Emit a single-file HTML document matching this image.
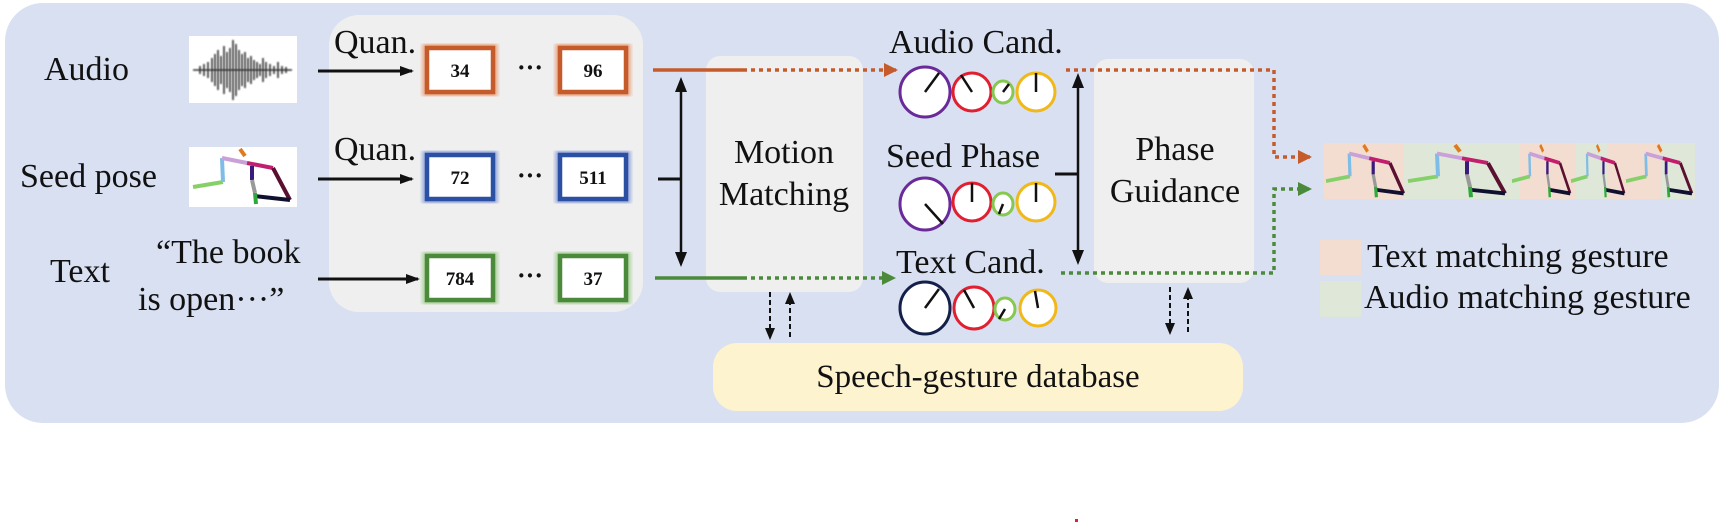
<!DOCTYPE html>
<html><head><meta charset="utf-8"><style>
html,body{margin:0;padding:0;background:#fff;}
svg{display:block;}
text{font-family:"Liberation Serif","Times New Roman",serif;fill:#111;}
</style></head><body>
<svg width="1726" height="525" viewBox="0 0 1726 525" xmlns="http://www.w3.org/2000/svg">
<defs>
<marker id="ao" markerWidth="14" markerHeight="14" refX="12" refY="7" orient="auto" markerUnits="userSpaceOnUse"><path d="M0,0 L14,7 L0,14 z" fill="#c55a2b"/></marker>
<marker id="ag" markerWidth="14" markerHeight="14" refX="12" refY="7" orient="auto" markerUnits="userSpaceOnUse"><path d="M0,0 L14,7 L0,14 z" fill="#4a8a3a"/></marker>
<marker id="abig" markerWidth="14" markerHeight="14" refX="12" refY="7" orient="auto" markerUnits="userSpaceOnUse"><path d="M0,2 L14,7 L0,12 z" fill="#111"/></marker>
<filter id="bl"><feGaussianBlur stdDeviation="2"/></filter>
<filter id="bl1"><feGaussianBlur stdDeviation="0.8"/></filter>
<g id="skel" stroke-width="4" fill="none" stroke-linecap="butt">
  <path d="M193,187 L223,182" stroke="#86d06a"/>
  <path d="M223,182 L222,158" stroke="#7fbde6"/>
  <path d="M222,158 L247,163" stroke="#c9a0d8"/>
  <path d="M247,163 L273,168" stroke="#c21e6e"/>
  <path d="M273,168 L290,200" stroke="#5a1030"/>
  <path d="M290,200 L254,196" stroke="#101030"/>
  <path d="M252,166 L252,180" stroke="#3a1a7a"/>
  <path d="M252,180 L255,193" stroke="#999"/>
  <path d="M255,193 L256,204" stroke="#2eaa3a"/>
  <path d="M240,149 L245,156" stroke="#e07a20"/>
</g>
</defs>

<rect x="5" y="3" width="1714" height="420" rx="38" fill="#d9e0f2"/>
<rect x="329" y="15" width="314" height="297" rx="30" fill="#efefef"/>
<rect x="706" y="56" width="157" height="236" rx="14" fill="#efefef"/>
<rect x="1094" y="59" width="160" height="224" rx="14" fill="#efefef"/>
<rect x="713" y="343" width="530" height="68" rx="24" fill="#fdf3cf"/>

<text x="44" y="80" font-size="34">Audio</text>
<text x="20" y="187" font-size="34">Seed pose</text>
<text x="50" y="282" font-size="34">Text</text>
<text x="156" y="263" font-size="34">“The book</text>
<text x="138" y="310" font-size="34">is open···”</text>

<rect x="189" y="36" width="108" height="67" fill="#fff"/>
<g stroke="#111" stroke-width="1.6" opacity="0.85" filter="url(#bl1)">
<path d="M193,70 H292"/>
<path d="M200,66V74M204,64V76M208,62V78M212,58V82M215,54V86M218,50V90M221,56V84M224,46V94M227,52V88M230,48V92M233,40V100M236,44V96M239,50V90M242,54V86M245,52V88M248,58V82M251,56V84M254,60V80M257,62V78M260,64V76M263,58V82M266,62V78M270,64V76M274,66V74M278,62V78M282,66V74M286,67V73"/>
</g>

<rect x="189" y="147" width="108" height="60" fill="#fff"/>
<use href="#skel"/>

<text x="334" y="53" font-size="34">Quan.</text>
<text x="334" y="160" font-size="34">Quan.</text>
<line x1="318" y1="71" x2="412" y2="71" stroke="#111" stroke-width="3" marker-end="url(#abig)"/>
<line x1="318" y1="179" x2="412" y2="179" stroke="#111" stroke-width="3" marker-end="url(#abig)"/>
<line x1="318" y1="279" x2="418" y2="279" stroke="#111" stroke-width="3" marker-end="url(#abig)"/>

<g fill="#fff" stroke-width="4.5">
<rect x="427" y="48" width="66" height="44" stroke="#e9a27e" stroke-width="9" filter="url(#bl)"/>
<rect x="560" y="48" width="66" height="44" stroke="#e9a27e" stroke-width="9" filter="url(#bl)"/>
<rect x="427" y="48" width="66" height="44" stroke="#c55a2b"/>
<rect x="560" y="48" width="66" height="44" stroke="#c55a2b"/>
<rect x="427" y="155" width="66" height="44" stroke="#8ea2d8" stroke-width="9" filter="url(#bl)"/>
<rect x="560" y="155" width="66" height="44" stroke="#8ea2d8" stroke-width="9" filter="url(#bl)"/>
<rect x="427" y="155" width="66" height="44" stroke="#2b4fa3"/>
<rect x="560" y="155" width="66" height="44" stroke="#2b4fa3"/>
<rect x="427" y="256" width="66" height="44" stroke="#a6cf95" stroke-width="9" filter="url(#bl)"/>
<rect x="560" y="256" width="66" height="44" stroke="#a6cf95" stroke-width="9" filter="url(#bl)"/>
<rect x="427" y="256" width="66" height="44" stroke="#4a8a3a"/>
<rect x="560" y="256" width="66" height="44" stroke="#4a8a3a"/>
</g>
<g font-size="19" font-weight="bold" text-anchor="middle">
<text x="460" y="77">34</text><text x="593" y="77">96</text>
<text x="460" y="184">72</text><text x="593" y="184">511</text>
<text x="460" y="285">784</text><text x="593" y="285">37</text>
</g>
<g font-size="26" font-weight="bold" text-anchor="middle">
<text x="530" y="76">···</text><text x="530" y="184">···</text><text x="530" y="284">···</text>
</g>

<line x1="653" y1="70" x2="743" y2="70" stroke="#c55a2b" stroke-width="3.5"/>
<line x1="743" y1="70" x2="896" y2="70" stroke="#c55a2b" stroke-width="3.5" stroke-dasharray="4,4" marker-end="url(#ao)"/>
<line x1="655" y1="278" x2="743" y2="278" stroke="#4a8a3a" stroke-width="3.5"/>
<line x1="743" y1="278" x2="894" y2="278" stroke="#4a8a3a" stroke-width="3.5" stroke-dasharray="4,4" marker-end="url(#ag)"/>

<line x1="681" y1="90" x2="681" y2="254" stroke="#111" stroke-width="2.5"/>
<path d="M675,92 L681,77 L687,92 z M675,252 L681,267 L687,252 z" fill="#111"/>
<line x1="658" y1="179" x2="681" y2="179" stroke="#111" stroke-width="3"/>

<text x="784" y="163" font-size="34" text-anchor="middle">Motion</text>
<text x="784" y="205" font-size="34" text-anchor="middle">Matching</text>

<g stroke="#111" stroke-width="2" stroke-dasharray="5,3">
<line x1="770" y1="292" x2="770" y2="330"/><line x1="790" y1="300" x2="790" y2="340"/>
<line x1="1170" y1="287" x2="1170" y2="325"/><line x1="1188" y1="295" x2="1188" y2="335"/>
</g>
<path d="M765,328 L770,340 L775,328 z M785,304 L790,292 L795,304 z M1165,323 L1170,335 L1175,323 z M1183,299 L1188,287 L1193,299 z" fill="#111"/>

<text x="978" y="387" font-size="33" text-anchor="middle">Speech-gesture database</text>

<text x="889" y="53" font-size="34">Audio Cand.</text>
<text x="886" y="167" font-size="34">Seed Phase</text>
<text x="896" y="273" font-size="34">Text Cand.</text>

<g fill="#fff" stroke-width="3">
<ellipse cx="925" cy="92" rx="25" ry="25" stroke="#6a2a9a"/>
<ellipse cx="972" cy="92" rx="19" ry="19" stroke="#e02030"/>
<ellipse cx="1003" cy="92" rx="10" ry="11" stroke="#86c850"/>
<ellipse cx="1036" cy="92" rx="19" ry="19" stroke="#f0b818"/>
<ellipse cx="925" cy="204" rx="25" ry="26" stroke="#6a2a9a"/>
<ellipse cx="972" cy="202" rx="19" ry="19" stroke="#e02030"/>
<ellipse cx="1003" cy="204" rx="10" ry="11" stroke="#86c850"/>
<ellipse cx="1036" cy="202" rx="19" ry="19" stroke="#f0b818"/>
<ellipse cx="925" cy="308" rx="25" ry="26" stroke="#14204a"/>
<ellipse cx="974" cy="308" rx="20" ry="21" stroke="#e02030"/>
<ellipse cx="1005" cy="309" rx="10" ry="11" stroke="#86c850"/>
<ellipse cx="1038" cy="308" rx="18" ry="18" stroke="#f0b818"/>
</g>
<g stroke="#111" stroke-width="2.5">
<path d="M925,92 L939,73"/><path d="M972,92 L961,75"/><path d="M1003,92 L1009,84"/><path d="M1036,92 L1036,73"/>
<path d="M925,204 L943,224"/><path d="M972,202 L972,183"/><path d="M1003,204 L999,214"/><path d="M1036,202 L1036,183"/>
<path d="M925,308 L939,289"/><path d="M974,308 L964,290"/><path d="M1005,309 L999,319"/><path d="M1038,308 L1035,291"/>
</g>

<line x1="1078" y1="86" x2="1078" y2="252" stroke="#111" stroke-width="2.5"/>
<path d="M1072,88 L1078,73 L1084,88 z M1072,250 L1078,265 L1084,250 z" fill="#111"/>
<line x1="1055" y1="174" x2="1078" y2="174" stroke="#111" stroke-width="3"/>

<text x="1175" y="160" font-size="34" text-anchor="middle">Phase</text>
<text x="1175" y="202" font-size="34" text-anchor="middle">Guidance</text>

<path d="M1066,70 H1274 V157 H1310" fill="none" stroke="#c55a2b" stroke-width="3.5" stroke-dasharray="4,4" marker-end="url(#ao)"/>
<path d="M1061,273 H1274 V189 H1310" fill="none" stroke="#4a8a3a" stroke-width="3.5" stroke-dasharray="4,4" marker-end="url(#ag)"/>

<rect x="1324" y="143" width="80" height="56" fill="#f3ddd0"/>
<rect x="1404" y="143" width="116" height="56" fill="#dfe8d8"/>
<rect x="1520" y="143" width="56" height="56" fill="#f3ddd0"/>
<rect x="1576" y="143" width="31" height="56" fill="#dfe8d8"/>
<rect x="1607" y="143" width="55" height="56" fill="#f3ddd0"/>
<rect x="1662" y="143" width="33" height="56" fill="#dfe8d8"/>
<g transform="translate(1326,145) scale(0.8,0.95) translate(-193,-149)"><use href="#skel"/></g>
<g transform="translate(1408,145) scale(1.0,0.95) translate(-193,-149)"><use href="#skel"/></g>
<g transform="translate(1512,145) scale(0.6,0.95) translate(-193,-149)"><use href="#skel"/></g>
<g transform="translate(1571,145) scale(0.55,0.95) translate(-193,-149)"><use href="#skel"/></g>
<g transform="translate(1626,145) scale(0.68,0.95) translate(-193,-149)"><use href="#skel"/></g>

<rect x="1320" y="240" width="41" height="35" fill="#f3ddd0"/>
<rect x="1320" y="281" width="41" height="36" fill="#dfe8d8"/>
<text x="1367" y="267" font-size="34">Text matching gesture</text>
<text x="1364" y="308" font-size="34">Audio matching gesture</text>

<rect x="1075" y="519" width="3" height="3" fill="#e02030"/>
</svg>
</body></html>
